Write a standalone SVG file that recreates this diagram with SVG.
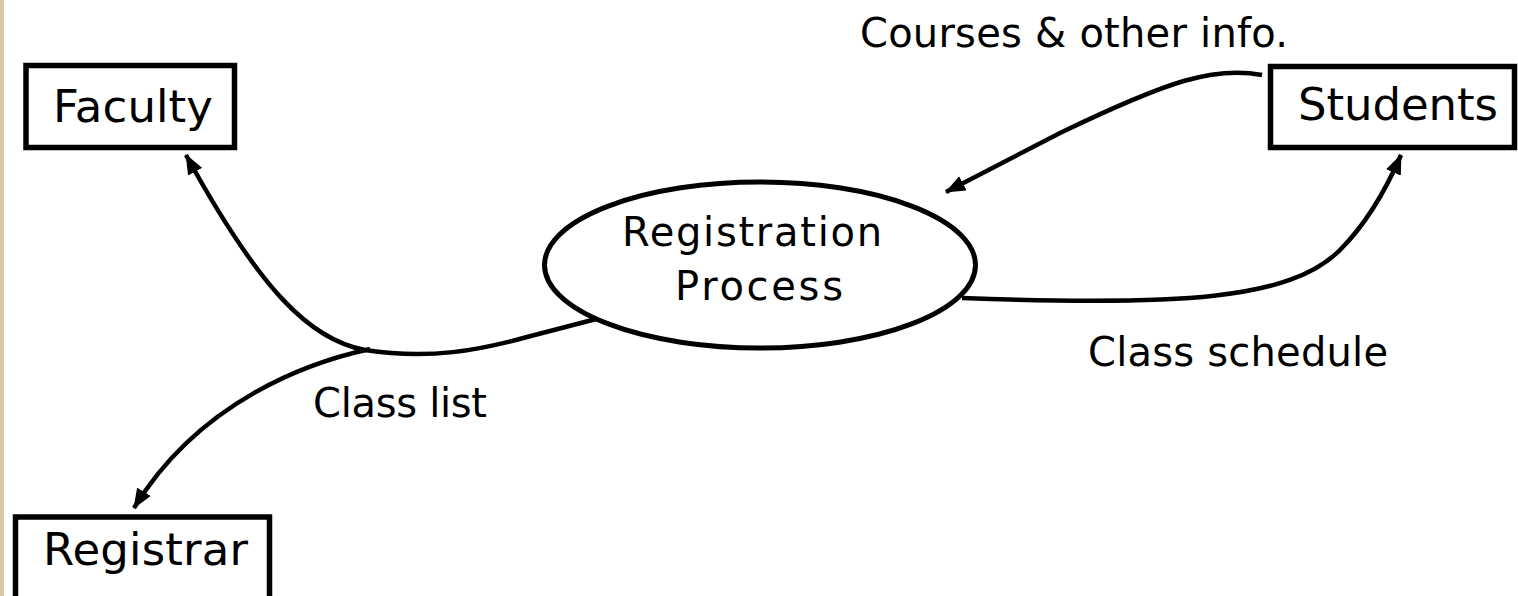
<svg xmlns="http://www.w3.org/2000/svg" width="1518" height="596" viewBox="0 0 1518 596">
  <style>
    .box { fill: #ffffff; stroke: #000000; stroke-width: 5.5; }
    .proc { fill: #ffffff; stroke: #000000; stroke-width: 5; }
    .flow { fill: none; stroke: #000000; stroke-width: 4.5; stroke-linecap: butt; }
    .name { font-family: "DejaVu Sans", "Liberation Sans", sans-serif; font-size: 45px; fill: #000000; text-anchor: middle; }
    .lbl { font-family: "DejaVu Sans", "Liberation Sans", sans-serif; font-size: 40px; fill: #000000; text-anchor: middle; }
  </style>
  <defs>
    <marker id="arrow" viewBox="0 0 20 16" refX="19" refY="8" markerWidth="20" markerHeight="16" markerUnits="userSpaceOnUse" orient="auto">
      <path d="M0,0 L20,8 L0,16 Z" fill="#000000"/>
    </marker>
  </defs>

  <!-- page background with the left margin strip -->
  <rect x="0" y="0" width="1518" height="596" fill="#ffffff"/>
  <rect x="0" y="0" width="4" height="596" fill="#d8c9a4"/>

  <!-- data flows -->
  <g id="connectors">
    <!-- Students -> process : Courses & other info. -->
    <path class="flow" d="M1262,75 C1215,66 1170,80 1060,133 L946,192" marker-end="url(#arrow)"/>
    <!-- process -> Students : Class schedule -->
    <path class="flow" d="M962,298 C1180,306 1290,300 1340,250 C1370,220 1388,185 1401,155" marker-end="url(#arrow)"/>
    <!-- process -> Faculty : Class list -->
    <path class="flow" d="M600,318 L527,337 C480,350 430,360 365,350 C310,340 260,290 186,155" marker-end="url(#arrow)"/>
    <!-- branch -> Registrar : Class list -->
    <path class="flow" d="M370,349 C310,362 200,400 134,508" marker-end="url(#arrow)"/>
  </g>

  <g id="faculty">
    <rect class="box" x="26" y="65.5" width="208.5" height="82"/>
    <text class="name" x="133" y="122" textLength="160">Faculty</text>
  </g>

  <g id="students">
    <rect class="box" x="1270.5" y="66.5" width="244" height="81"/>
    <text class="name" x="1398" y="120" textLength="200">Students</text>
  </g>

  <g id="registrar">
    <rect class="box" x="15.5" y="517" width="254" height="90"/>
    <text class="name" x="145.5" y="565" textLength="205">Registrar</text>
  </g>

  <g id="registration-process">
    <ellipse class="proc" cx="760" cy="265" rx="215.5" ry="83"/>
    <text class="lbl" x="752" y="246" textLength="260">Registration</text>
    <text class="lbl" x="759" y="300" textLength="168">Process</text>
  </g>

  <g id="labels">
    <text class="lbl" x="1074" y="47" textLength="428">Courses &amp; other info.</text>
    <text class="lbl" x="1238" y="366" textLength="300">Class schedule</text>
    <text class="lbl" x="400" y="417" textLength="174">Class list</text>
  </g>
</svg>
